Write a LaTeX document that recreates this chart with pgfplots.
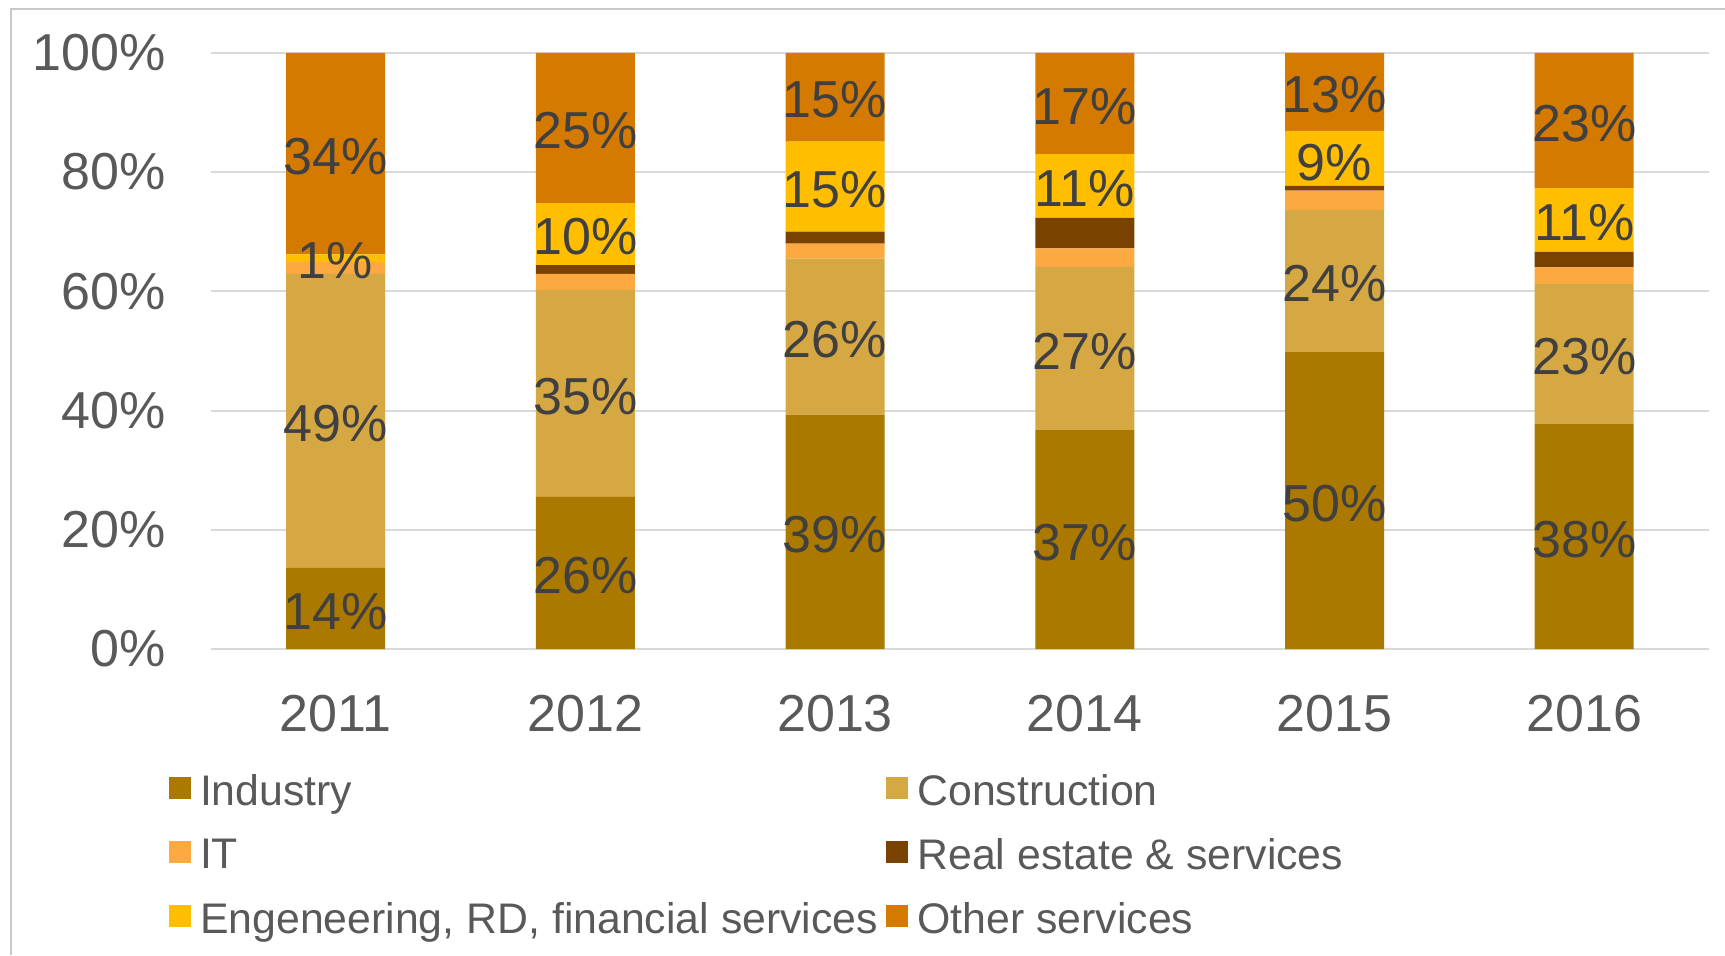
\documentclass[border=0pt]{standalone}
\usepackage{fontspec}
\setmainfont{Liberation Sans}
\usepackage{pgfplots}
\usepackage{pgfplotstable}
\pgfplotsset{compat=1.18}
\definecolor{cInd}{HTML}{AB7800}
\definecolor{cCon}{HTML}{D6A843}
\definecolor{cIT}{HTML}{FDA942}
\definecolor{cRE}{HTML}{7A4200}
\definecolor{cEng}{HTML}{FFBF00}
\definecolor{cOth}{HTML}{D57A00}
\definecolor{gridgray}{HTML}{D9D9D9}
\definecolor{framegray}{HTML}{C8C8C8}
\definecolor{tickgray}{HTML}{595959}
\definecolor{labgray}{HTML}{404040}

\pgfplotstableread{
x Ind Con IT RE Eng Oth
0 13.6 49.3 2.0 0.0 1.3 33.8
1 25.5 34.7 2.7 1.5 10.4 25.2
2 39.3 26.2 2.5 2.0 15.1 14.9
3 36.7 27.4 3.1 5.1 10.7 17.0
4 49.8 23.8 3.3 0.8 9.2 13.1
5 37.8 23.4 2.8 2.6 10.7 22.7
}\datatable

\pgfplotstableread{
x y label
0 6.8 14\%
1 12.75 26\%
2 19.65 39\%
3 18.35 37\%
4 24.9 50\%
5 18.9 38\%
0 38.25 49\%
1 42.85 35\%
2 52.4 26\%
3 50.4 27\%
4 61.7 24\%
5 49.5 23\%
0 65.55 1\%
1 69.6 10\%
2 77.55 15\%
3 77.65 11\%
4 82.0 9\%
5 71.95 11\%
0 83.1 34\%
1 87.4 25\%
2 92.55 15\%
3 91.5 17\%
4 93.45 13\%
5 88.65 23\%
}\labeltable

\begin{document}
\begin{tikzpicture}
\path[use as bounding box] (0,0) rectangle (862.5pt,477.5pt);
\draw[framegray, line width=0.8pt] (5.5pt,0) -- (5.5pt,473pt) -- (862.5pt,473pt);
\begin{axis}[
  at={(105.35pt,153pt)}, anchor=south west,
  scale only axis, width=749.2pt, height=298.1pt,
  ybar stacked, bar width=49.5pt,
  xmin=-0.5, xmax=5.5, ymin=0, ymax=100,
  xtick={0,1,2,3,4,5}, xticklabels={2011,2012,2013,2014,2015,2016},
  ytick={0,20,40,60,80,100}, yticklabels={0\%,20\%,40\%,60\%,80\%,100\%},
  axis line style={draw=none},
  ymajorgrids, major grid style={gridgray, line width=1pt},
  major tick length=0pt,
  tick label style={font=\fontsize{26}{30}\selectfont, text=tickgray},
  yticklabel style={anchor=east, xshift=-19pt},
  xticklabel style={anchor=north, yshift=-19.5pt},
  legend columns=2, legend cell align=left,
  legend style={at={(-0.0321,-0.1965)}, anchor=north west, draw=none, fill=none,
    font=\fontsize{21.4}{25}\selectfont, text=tickgray,
    /tikz/every even column/.append style={column sep=2.1pt},
    /tikz/row sep=11pt},
  legend image code/.code={\fill[#1] (0pt,-3.7pt) rectangle (10.8pt,7.2pt); \path (13.55pt,0pt);},
]
\addplot[fill=cInd, draw=none] table[x=x, y=Ind] {\datatable};
\addplot[fill=cCon, draw=none] table[x=x, y=Con] {\datatable};
\addplot[fill=cIT, draw=none] table[x=x, y=IT] {\datatable};
\addplot[fill=cRE, draw=none] table[x=x, y=RE] {\datatable};
\addplot[fill=cEng, draw=none] table[x=x, y=Eng] {\datatable};
\addplot[fill=cOth, draw=none] table[x=x, y=Oth] {\datatable};
\legend{Industry, Construction, IT, Real estate \& services, {Engeneering, RD, financial services}, Other services}
\end{axis}
\begin{axis}[
  at={(105.35pt,153pt)}, anchor=south west,
  scale only axis, width=749.2pt, height=298.1pt,
  xmin=-0.5, xmax=5.5, ymin=0, ymax=100,
  hide axis,
]
\addplot[draw=none, mark=none, nodes near coords, point meta=explicit symbolic,
  nodes near coords style={anchor=center, yshift=-1.4pt, font=\fontsize{26}{30}\selectfont, text=labgray}]
  table[x=x, y=y, meta=label] {\labeltable};
\end{axis}
\end{tikzpicture}
\end{document}
